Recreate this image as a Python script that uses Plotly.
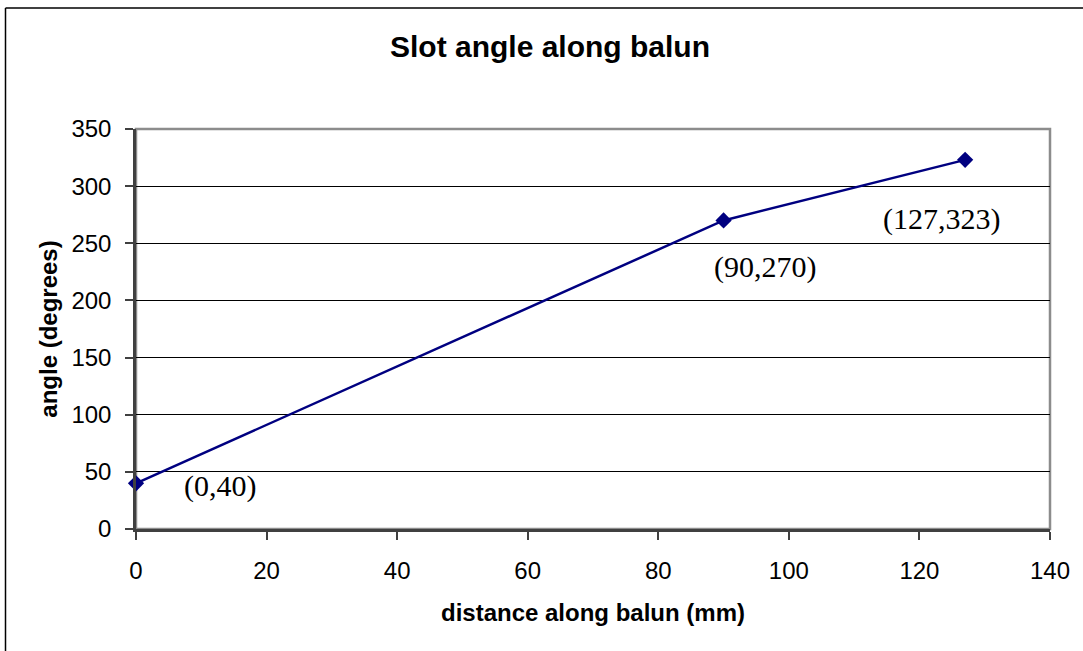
import plotly.graph_objects as go

# Data
distance_mm = [0, 90, 127]
angle_deg = [40, 270, 323]
x_ticks = [0, 20, 40, 60, 80, 100, 120, 140]
y_ticks = [0, 50, 100, 150, 200, 250, 300, 350]
label_shift_x = [84, 41, -24]
label_shift_y = [-3, -47, -59]

W, H = 1083, 651
L, R, T, B = 136, 33, 129, 122
pw, ph = W - L - R, H - T - B

fig = go.Figure()
fig.add_trace(go.Scatter(
    x=distance_mm, y=angle_deg, mode="lines+markers",
    line=dict(color="#000080", width=2.5),
    marker=dict(symbol="diamond", size=12.5, color="#000080"),
    showlegend=False, hoverinfo="x+y", cliponaxis=False,
))

for xv, yv, dx, dy in zip(distance_mm, angle_deg, label_shift_x, label_shift_y):
    fig.add_annotation(
        x=xv, y=yv, xref="x", yref="y", text=f"({xv},{yv})", showarrow=False,
        xshift=dx, yshift=dy, xanchor="center", yanchor="middle",
        font=dict(family="Liberation Serif, Times New Roman, serif", size=30, color="black"),
    )

# plot area border (gray)
fig.add_shape(type="rect", xref="paper", yref="paper", x0=0, x1=1, y0=0, y1=1,
              line=dict(color="#8c8c8c", width=2.5), layer="below")
# outer chart border (left & top visible)
ox = (5.5 - L) / pw
oy = (H - B - 8) / ph
fig.add_shape(type="line", xref="paper", yref="paper", x0=ox, x1=ox, y0=oy, y1=-2,
              line=dict(color="black", width=1.5))
fig.add_shape(type="line", xref="paper", yref="paper", x0=ox, x1=2, y0=oy, y1=oy,
              line=dict(color="black", width=1.5))

axis_font = dict(family="Liberation Sans, Arial, sans-serif", size=24, color="black")
title_font = dict(family="Liberation Sans, Arial, sans-serif", size=24, color="black")

fig.update_layout(
    width=W, height=H,
    margin=dict(l=L, r=R, t=T, b=B, pad=0),
    paper_bgcolor="white", plot_bgcolor="white",
    title=dict(text="<b>Slot angle along balun</b>", x=(550) / W, xanchor="center",
               y=1 - 46 / H, yanchor="middle", yref="container",
               font=dict(family="Liberation Sans, Arial, sans-serif", size=30, color="black")),
    xaxis=dict(range=[0, 140], tickvals=x_ticks, ticks="outside", ticklen=8, tickwidth=1.5,
               tickcolor="#404040", showgrid=False, zeroline=False, showline=True,
               linecolor="#404040", linewidth=2.5, tickfont=axis_font,
               title=dict(text="<b>distance along balun (mm)</b>", font=title_font, standoff=22),
               ticklabelstandoff=10),
    yaxis=dict(range=[0, 350], tickvals=y_ticks, ticks="outside", ticklen=8, tickwidth=1.5,
               tickcolor="#404040", showgrid=True, gridcolor="black", gridwidth=1,
               zeroline=False, showline=True, linecolor="#404040", linewidth=2.5,
               tickfont=axis_font,
               title=dict(text="<b>angle (degrees)</b>", font=title_font, standoff=8),
               ticklabelstandoff=9),
)

fig.write_html("out.html")
